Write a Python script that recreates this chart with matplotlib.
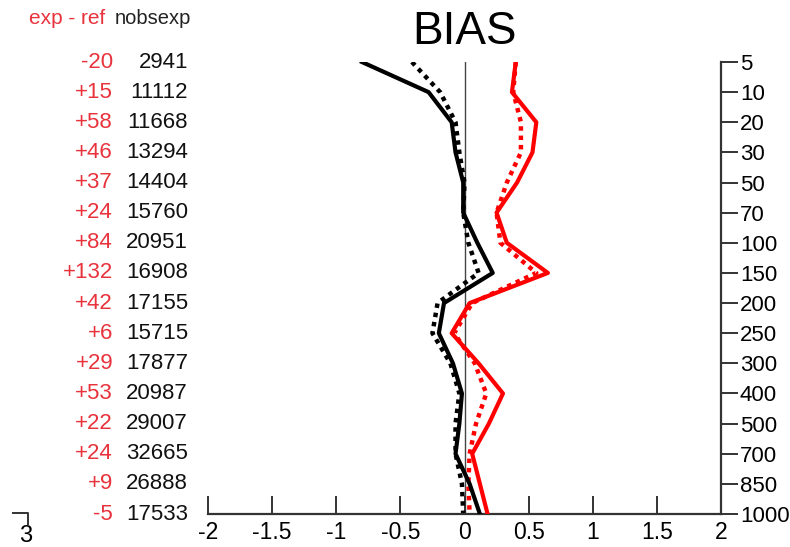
import matplotlib.pyplot as plt
import matplotlib.transforms as mtransforms
from matplotlib.lines import Line2D
import numpy as np

plt.rcParams['font.family'] = ['Liberation Sans', 'DejaVu Sans']

# pressure levels (hPa), top to bottom
levels = [5, 10, 20, 30, 50, 70, 100, 150, 200, 250, 300, 400, 500, 700, 850, 1000]
diff_txt = ["-20", "+15", "+58", "+46", "+37", "+24", "+84", "+132",
            "+42", "+6", "+29", "+53", "+22", "+24", "+9", "-5"]
nobsexp = [2941, 11112, 11668, 13294, 14404, 15760, 20951, 16908,
           17155, 15715, 17877, 20987, 29007, 32665, 26888, 17533]

# bias profiles
blk_exp = [-0.80, -0.28, -0.10, -0.07, -0.01, -0.01, 0.10, 0.22,
           -0.16, -0.20, -0.09, -0.02, -0.04, -0.07, 0.04, 0.12]
blk_ref = [-0.41, -0.19, -0.07, -0.04, 0.00, -0.01, 0.03, 0.11,
           -0.21, -0.25, -0.11, -0.04, -0.07, -0.07, -0.02, -0.01]
red_exp = [0.40, 0.37, 0.56, 0.53, 0.41, 0.25, 0.33, 0.65,
           0.04, -0.10, 0.11, 0.30, 0.19, 0.06, 0.12, 0.18]
red_ref = [0.40, 0.38, 0.44, 0.44, 0.33, 0.25, 0.28, 0.56,
           0.06, -0.08, 0.08, 0.17, 0.09, 0.04, 0.03, 0.04]

xticks = [-2, -1.5, -1, -0.5, 0, 0.5, 1, 1.5, 2]
xticklabels = ["-2", "-1.5", "-1", "-0.5", "0", "0.5", "1", "1.5", "2"]

RED = "#ff0000"
RED_TXT = "#e8323c"

fig = plt.figure(figsize=(7.9, 5.47), dpi=100)
ax = fig.add_axes([208 / 790, 1 - 514 / 547, (721 - 208) / 790, (514 - 62) / 547])

ypos = np.arange(len(levels))
dot = (0, (1, 1.1))

ax.axvline(0, color="#444444", lw=1.0, zorder=1)
ax.plot(blk_ref, ypos, color="black", lw=3.2, linestyle=dot, dash_capstyle="butt", zorder=2)
ax.plot(red_ref, ypos, color=RED, lw=3.2, linestyle=dot, dash_capstyle="butt", zorder=2)
ax.plot(blk_exp, ypos, color="black", lw=3.0, zorder=3)
ax.plot(red_exp, ypos, color=RED, lw=3.0, zorder=3)

ax.set_xlim(-2, 2)
ax.set_ylim(len(levels) - 1, 0)

for side in ("top", "left"):
    ax.spines[side].set_visible(False)
ax.spines["bottom"].set_color("#333333")
ax.spines["right"].set_color("#333333")
ax.spines["bottom"].set_linewidth(1.6)
ax.spines["right"].set_linewidth(1.6)

ax.set_xticks(xticks)
ax.set_xticklabels(xticklabels)
ax.tick_params(axis="x", direction="in", length=13, width=1.4, color="#333333",
               labelsize=16.5, pad=5)

ax.yaxis.tick_right()
ax.set_yticks(ypos)
ax.set_yticklabels([str(l) for l in levels])
ax.tick_params(axis="y", direction="out", length=12, width=1.4, color="#333333",
               labelsize=16, pad=1.5, left=False, labelleft=False)

fig.text(0.5886, 1 - 32 / 547, "BIAS", ha="center", va="center", fontsize=33)

# left columns: count difference and number of observations
trans = mtransforms.blended_transform_factory(fig.transFigure, ax.transData)
for y, d, n in zip(ypos, diff_txt, nobsexp):
    ax.text(113 / 790, y, d, transform=trans, ha="right", va="center",
            color=RED_TXT, fontsize=16, clip_on=False)
    ax.text(188 / 790, y, str(n), transform=trans, ha="right", va="center",
            color="#111111", fontsize=16, clip_on=False)

fig.text(29 / 790, 1 - 19 / 547, "exp - ref", ha="left", va="center",
         color=RED_TXT, fontsize=15)
fig.text(115 / 790, 1 - 19 / 547, "nobsexp", ha="left", va="center",
         color="#222222", fontsize=14.5)

# stray axis stub in the lower left corner
fig.add_artist(Line2D([13 / 790, 28 / 790, 28 / 790],
                      [1 - 513 / 547, 1 - 513 / 547, 1 - 524 / 547],
                      color="#333333", lw=1.4))
fig.text(26 / 790, 1 - 536 / 547, "3", ha="center", va="center", fontsize=17)

fig.savefig("out.png", dpi=100)
